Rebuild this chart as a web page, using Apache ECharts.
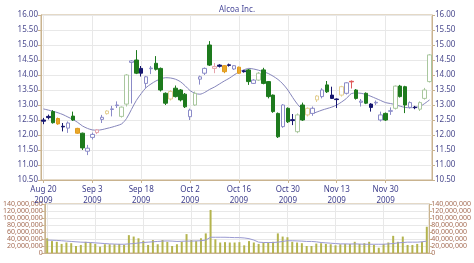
<!DOCTYPE html>
<html><head><meta charset="utf-8">
<script src="https://cdn.jsdelivr.net/npm/echarts@6/dist/echarts.min.js"></script>
<style>html,body{margin:0;padding:0;background:#fff}#c{width:474px;height:263px}</style>
</head><body><div id="c"></div>
<script>
const title = 'Alcoa Inc.';
const dates = [
 '2009-08-20','2009-08-21','2009-08-24','2009-08-25','2009-08-26','2009-08-27','2009-08-28','2009-08-31',
 '2009-09-01','2009-09-02','2009-09-03','2009-09-04','2009-09-08','2009-09-09','2009-09-10','2009-09-11','2009-09-14','2009-09-15','2009-09-16','2009-09-17','2009-09-18','2009-09-21','2009-09-22','2009-09-23','2009-09-24','2009-09-25','2009-09-28','2009-09-29','2009-09-30',
 '2009-10-01','2009-10-02','2009-10-05','2009-10-06','2009-10-07','2009-10-08','2009-10-09','2009-10-12','2009-10-13','2009-10-14','2009-10-15','2009-10-16','2009-10-19','2009-10-20','2009-10-21','2009-10-22','2009-10-23','2009-10-26','2009-10-27','2009-10-28','2009-10-29','2009-10-30',
 '2009-11-02','2009-11-03','2009-11-04','2009-11-05','2009-11-06','2009-11-09','2009-11-10','2009-11-11','2009-11-12','2009-11-13','2009-11-16','2009-11-17','2009-11-18','2009-11-19','2009-11-20','2009-11-23','2009-11-24','2009-11-25','2009-11-27','2009-11-30',
 '2009-12-01','2009-12-02','2009-12-03','2009-12-04','2009-12-07','2009-12-08','2009-12-09','2009-12-10','2009-12-11'
];
const opens = [12.50,12.62,12.78,12.55,12.29,12.23,12.63,12.22,12.06,11.46,11.92,12.08,12.52,12.71,12.85,12.98,12.62,13.03,14.42,14.50,
 14.22,13.72,14.21,14.39,14.22,13.39,13.20,13.56,13.50,13.36,12.61,13.00,13.86,14.06,15.00,14.22,14.33,14.31,14.34,14.20,
 14.26,14.14,14.17,13.72,13.83,14.17,13.78,13.33,12.72,12.28,12.89,12.51,12.11,13.00,12.67,12.72,13.17,13.28,13.67,13.33,
 13.20,13.33,13.39,13.77,13.50,13.09,13.39,13.03,13.07,12.50,12.72,12.79,12.89,13.63,13.61,12.92,12.93,12.86,13.22,13.78];
const closes = [12.46,12.58,12.41,12.37,12.27,12.40,12.50,12.06,11.57,11.56,12.02,12.17,12.59,12.80,12.87,13.00,12.93,14.00,14.47,14.06,
 14.06,13.94,14.23,14.19,13.50,13.06,13.45,13.28,13.17,12.94,12.83,13.39,13.94,14.22,14.33,14.28,14.29,14.11,14.32,14.31,
 14.06,14.11,13.78,13.83,14.06,13.72,13.28,12.78,11.94,13.00,12.44,12.48,12.67,12.50,12.89,12.89,13.30,13.50,13.44,13.22,
 13.18,13.61,13.74,13.79,13.22,13.13,13.06,12.92,13.09,12.67,12.50,12.81,13.63,13.28,13.00,13.08,12.91,13.08,13.50,14.67];
const lows = [12.36,12.52,12.38,12.34,12.12,12.07,12.47,12.04,11.50,11.33,11.85,12.03,12.40,12.68,12.62,12.90,12.58,12.95,13.05,14.03,
 13.95,13.57,14.03,14.15,13.45,13.00,13.15,13.25,13.12,12.90,12.50,12.97,13.68,14.00,14.30,14.06,14.25,14.06,14.28,14.17,
 14.04,14.08,13.67,13.70,13.80,13.69,13.22,12.74,11.90,12.24,12.40,12.33,12.06,12.47,12.62,12.64,13.10,13.22,13.40,13.20,
 12.90,13.28,13.35,13.55,13.18,12.95,13.03,12.78,13.00,12.45,12.47,12.67,12.85,13.25,12.73,12.88,12.86,12.80,13.18,13.75];
const highs = [12.57,12.68,12.83,12.58,12.40,12.45,12.78,12.24,12.08,11.67,12.08,12.20,12.67,12.83,12.97,13.12,12.95,14.03,14.50,14.83,
 14.30,13.97,14.30,14.63,14.25,13.42,13.50,13.65,13.53,13.40,12.88,13.45,13.98,14.25,15.13,14.40,14.36,14.33,14.38,14.33,
 14.28,14.17,14.20,13.86,14.10,14.24,13.80,13.35,12.75,13.03,12.92,12.70,12.72,13.08,12.92,12.95,13.33,13.56,13.80,13.61,
 13.22,13.64,13.76,13.82,13.53,13.20,13.42,13.06,13.15,12.78,12.75,12.92,13.65,13.67,13.64,13.12,12.97,13.12,13.57,14.70];
const candleKinds = 'NNGONLGOGLLPLYLLHHLGNLLGGGYGGGLHLLGPNONLONGLHGGGGLGNHGYLYLGNNYLRGLGNLLGLHGGLNHHH'.split('');
const priceAvg = [12.87,12.83,12.79,12.74,12.68,12.60,12.52,12.42,12.30,12.22,12.17,12.16,12.18,12.22,12.26,12.31,12.37,12.55,12.85,13.15,
 13.38,13.58,13.70,13.80,13.87,13.91,13.90,13.86,13.78,13.64,13.48,13.39,13.36,13.42,13.52,13.60,13.70,13.80,13.89,14.00,
 14.10,14.17,14.22,14.20,14.16,14.11,14.05,13.96,13.85,13.70,13.50,13.25,13.02,12.85,12.76,12.72,12.77,12.83,12.88,12.93,
 13.00,13.10,13.22,13.38,13.40,13.39,13.35,13.29,13.22,13.15,13.08,13.05,13.01,12.96,12.92,12.91,12.92,12.95,13.05,13.17];
const volumesM = [42,34,32,26,30,28,20,23,32,30,26,18,25,25,25,26,23,51,47,42,
 35,23,37,25,37,32,20,25,32,54,37,34,42,56,123,39,30,31,30,30,
 31,22,34,30,26,30,30,32,56,47,45,32,30,28,20,20,27,28,26,25,
 22,25,26,26,32,26,28,32,23,15,26,30,49,32,47,23,23,26,32,75];
const volumeAvgM = [37,36.5,36,35,34,33,32,31,30.5,30,29,28,27,26,25.5,25,25,26,27,28.5,
 30,31,32,33,34,34.5,34,33,33.5,34,34,34.5,35,37,45,45,45,45,44.5,44,
 44,43,41,37,31,30,30,30,31,33,35,35,34.5,34,33,33,32,30,29,28,
 27,26,26,25.5,26,25.5,25,25,25,25,25,26,27,29,30,31,31,31,32,34];
const priceMin = 10.5, priceMax = 16, priceStep = 0.5;
const volMin = 0, volMax = 140000000, volStep = 20000000;
const labelEvery = 10;
const months = ['Jan','Feb','Mar','Apr','May','Jun','Jul','Aug','Sep','Oct','Nov','Dec'];

const kindStyle = {
  G:{fill:'#1d7a1d',border:'#1d7a1d'},
  H:{fill:'#ffffff',border:'#a9c79e'},
  L:{fill:'#ffffff',border:'#8b8bc8'},
  N:{fill:'#16166e',border:'#16166e'},
  O:{fill:'#e9a82a',border:'#e09a1c'},
  P:{fill:'#ffffff',border:'#e6a3ab'},
  Y:{fill:'#ffffff',border:'#e3cf93'},
  R:{fill:'#e05a5a',border:'#e05a5a'}
};
const candleData = opens.map((o,i)=>{
  const s = kindStyle[candleKinds[i]];
  return {value:[o,closes[i],lows[i],highs[i]],
    itemStyle:{color:s.fill,color0:s.fill,borderColor:s.border,borderColor0:s.border,borderWidth:1}};
});
const volumes = volumesM.map(v=>v*1e6);
const volumeAvg = volumeAvgM.map(v=>v*1e6);

const axisCol = '#c9b38f';
const gridCol = '#e8e8e8';
const priceLbl = '#4a4a8e';
const volLbl = '#a56d55';
const FONT = 'Noto Sans';
const showIdx = (i)=> i % labelEvery === 0;
function fmtDate(v){ const p=v.split('-'); return months[+p[1]-1]+' '+(+p[2])+'\n'+p[0]; }

const priceAxis = (pos, split)=>({
  type:'value', gridIndex:0, position:pos, min:priceMin, max:priceMax, interval:priceStep,
  axisLine:{show:true,lineStyle:{color:axisCol}},
  axisTick:{show:true,length:3,lineStyle:{color:axisCol}},
  axisLabel:{color:priceLbl,fontSize:8,fontFamily:FONT,margin:3,formatter:v=>v.toFixed(2)},
  splitLine:{show:split,lineStyle:{color:gridCol}}
});
const volAxis = (pos, split)=>({
  type:'value', gridIndex:1, position:pos, min:volMin, max:volMax, interval:volStep,
  axisLine:{show:true,lineStyle:{color:axisCol}},
  axisTick:{show:true,length:3,lineStyle:{color:axisCol}},
  axisLabel:{color:volLbl,fontSize:7,fontFamily:FONT,margin:2,formatter:v=>v.toLocaleString('en-US')},
  splitLine:{show:split,lineStyle:{color:gridCol}}
});

const chart = echarts.init(document.getElementById('c'),null,{renderer:'canvas'});
chart.setOption({
  animation:false,
  backgroundColor:'#ffffff',
  title:{text:title,left:'center',top:1,textStyle:{fontSize:8,fontWeight:'normal',color:'#4a4a9a',fontFamily:FONT}},
  grid:[
    {left:41,right:42,top:15,height:165,show:true,borderColor:axisCol,borderWidth:1,backgroundColor:'transparent'},
    {left:41,right:42,top:204,height:49,show:true,borderColor:axisCol,borderWidth:1,backgroundColor:'transparent'}
  ],
  xAxis:[
    {type:'category',gridIndex:0,data:dates,boundaryGap:true,
     axisLine:{show:true,lineStyle:{color:axisCol}},
     axisTick:{show:true,interval:(i)=>showIdx(i),alignWithLabel:true,length:3,lineStyle:{color:axisCol}},
     axisLabel:{interval:(i)=>showIdx(i),color:'#3e3e8c',fontSize:8,fontFamily:FONT,lineHeight:11,margin:4,formatter:fmtDate},
     splitLine:{show:true,interval:(i)=>showIdx(i),alignWithLabel:true,lineStyle:{color:gridCol}}},
    {type:'category',gridIndex:1,data:dates,boundaryGap:true,
     axisLine:{show:true,lineStyle:{color:axisCol}},
     axisTick:{show:false},axisLabel:{show:false},
     splitLine:{show:true,interval:(i)=>showIdx(i),alignWithLabel:true,lineStyle:{color:gridCol}}}
  ],
  yAxis:[priceAxis('left',true),priceAxis('right',false),volAxis('left',true),volAxis('right',false)],
  series:[
    {type:'line',xAxisIndex:0,yAxisIndex:0,data:priceAvg,symbol:'none',z:1,smooth:0.3,
     lineStyle:{color:'#8585bb',width:1}},
    {type:'candlestick',xAxisIndex:0,yAxisIndex:0,data:candleData,barWidth:4,z:3},
    {type:'bar',xAxisIndex:1,yAxisIndex:2,data:volumes,barWidth:2,itemStyle:{color:'#b4b44e'},z:2},
    {type:'line',xAxisIndex:1,yAxisIndex:2,data:volumeAvg,symbol:'none',z:3,
     lineStyle:{color:'#9a9ad2',width:1}}
  ]
});
</script></body></html>
